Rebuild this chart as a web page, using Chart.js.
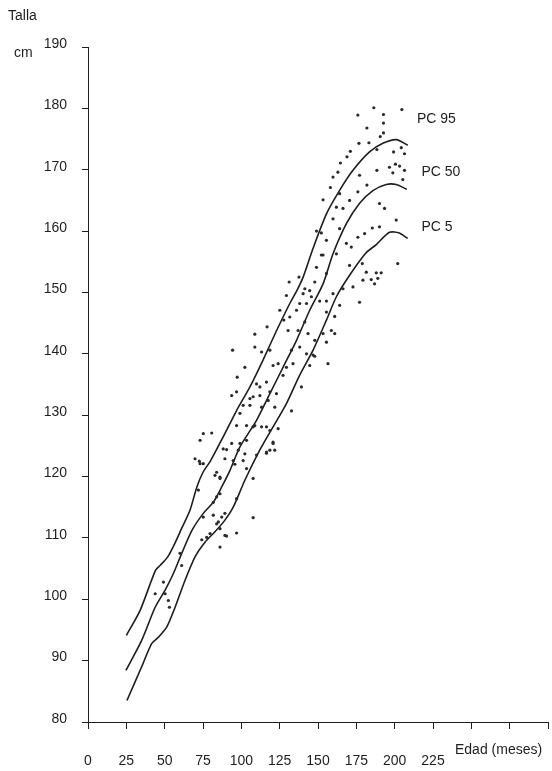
<!DOCTYPE html>
<html>
<head>
<meta charset="utf-8">
<script src="https://cdn.jsdelivr.net/npm/chart.js@4.4.1/dist/chart.umd.min.js"></script>
<style>
  html, body { margin: 0; padding: 0; background: #fff; }
  canvas { display: block; }
</style>
</head>
<body>
<canvas id="chart" width="552" height="771"></canvas>
<script>
// Percentile curves (edad en meses, talla en cm)
const months95 = [25, 34, 44, 47, 52, 57, 61, 66.5, 71, 75, 80, 88, 97, 105.6, 114, 123, 131.6, 136.2, 140.3, 146.8, 155.5, 164, 172.8, 183.6, 192.3, 201, 208.5];
const talla95 = [94.1, 98.2, 104.7, 105.5, 106.9, 109.3, 111.5, 114.5, 118.3, 120.7, 122.6, 126.4, 130.8, 134.6, 138.9, 143.8, 148.2, 150.3, 152.5, 157.2, 162.8, 166.6, 169.9, 172.9, 174.3, 174.9, 174.0];

const months50 = [24.7, 35, 43.8, 50.3, 55.7, 61, 67.7, 75.2, 81.7, 87.2, 92.6, 99, 110, 118.6, 127.2, 136, 144.6, 153.3, 159.8, 168.5, 177, 185.8, 194.5, 201, 208];
const talla50 = [88.4, 93.3, 98.7, 101.5, 104.2, 107.4, 111.2, 114.0, 115.8, 118.3, 121.0, 124.8, 129.2, 133.5, 137.8, 142.2, 147.1, 151.4, 156.3, 161.2, 164.5, 166.6, 167.6, 167.6, 166.8];

const months5 = [25.4, 35, 41.6, 45.9, 51.4, 56.8, 63.3, 69.8, 76.3, 82.8, 89.3, 94.7, 102.3, 112, 120.7, 129.4, 138, 146.8, 155.5, 162, 170.6, 181.5, 188, 196.6, 203, 208.5];
const talla5 = [83.5, 89.0, 92.8, 93.8, 95.5, 98.7, 103.1, 106.9, 109.3, 111.0, 112.9, 115.0, 119.4, 124.3, 128.1, 131.9, 136.5, 140.6, 145.5, 149.3, 152.8, 156.5, 157.8, 159.8, 159.7, 158.8];

// Individual measurements
const dotMonths = [
  186.4, 204.7, 176.0, 192.7, 192.7, 181.9, 192.7, 190.6, 176.7, 183.2, 171.1, 188.4, 168.9, 199.3, 204.3, 206.4,
  164.6, 163.0, 159.8, 188.4, 196.6, 200.5, 203.2, 206.4, 198.8, 205.3, 177.1, 181.9, 158.1, 153.3, 176.0, 170.6,
  164.1, 162.0, 166.3, 190.1, 193.4, 159.8, 176.0, 180.4, 185.4, 190.1, 201.0, 149.0, 152.2, 155.5, 164.1, 168.5,
  171.7, 162.0, 153.3, 178.9, 181.5, 188.0, 191.2, 184.7, 202.0, 170.6, 172.8, 166.3, 177.1, 144.6, 151.1, 140.3,
  138.1, 164.1, 155.5,
  131.2, 137.6, 147.9, 152.2, 129.4, 141.4, 155.5, 149.0, 125.1, 131.6, 136.0, 142.5, 145.7, 155.5, 159.8, 127.7,
  130.5, 137.0, 141.4, 143.5, 147.9, 153.3, 158.7, 160.9, 116.8, 108.8, 94.3, 108.8, 113.2, 118.6, 132.7, 138.1,
  142.5, 146.8, 133.7, 129.4, 124.0, 127.2, 120.7, 102.3, 97.3, 109.9, 112.1, 116.4, 118.6, 122.9, 156.5, 139.2,
  93.7, 96.9, 101.2, 105.6, 107.7, 112.1, 113.2, 117.5, 121.8, 99.1, 132.7, 96.9, 103.4, 108.8, 113.2, 118.6,
  124.0, 75.2, 80.7, 73.1, 93.7, 99.1, 103.4, 120.7, 118.6, 98.0, 102.3, 109.9, 116.4, 88.2, 89.3, 69.8,
  73.1, 94.7, 103.4, 83.9,
  72.6, 75.2, 90.4, 101.2, 95.8, 86.1, 72.0, 83.9, 86.1, 81.7, 96.9, 107.7, 75.2, 81.7, 89.3, 83.9,
  86.1, 79.6, 77.4, 74.2, 90.4, 96.9, 86.1, 107.7, 60.0, 61.1, 49.2, 43.8, 50.3, 52.4, 53.1, 116.4,
  120.7, 121.8, 116.4, 105.6, 107.7, 82.8, 86.1, 85.0, 87.2, 89.3,
  179.3, 186.9, 189.0, 160.9, 155.5, 144.6, 147.9
];
const dotTalla = [
  180.1, 179.8, 178.9, 179.0, 177.6, 176.8, 176.0, 175.4, 174.3, 174.4, 173.0, 173.3, 172.1, 172.9, 173.6, 172.6,
  171.1, 169.6, 168.8, 169.9, 170.4, 170.9, 170.6, 169.9, 169.5, 168.4, 169.1, 167.5, 167.1, 165.1, 166.4, 165.0,
  166.1, 163.9, 163.7, 164.5, 163.7, 162.0, 159.0, 159.6, 160.5, 160.7, 161.8, 160.0, 159.7, 158.5, 160.4, 158.0,
  157.4, 156.3, 156.1, 154.7, 153.3, 153.2, 153.2, 152.1, 154.7, 154.4, 150.9, 150.6, 148.4, 150.3, 148.6, 149.8,
  148.2, 147.9, 148.6,
  151.7, 152.5, 151.7, 156.1, 149.5, 150.6, 153.1, 154.1, 147.1, 146.0, 147.1, 148.2, 149.3, 146.8, 149.8, 145.5,
  143.8, 143.8, 145.2, 143.3, 142.2, 143.3, 143.8, 143.3, 144.4, 143.2, 140.6, 141.1, 140.3, 140.6, 140.6, 141.1,
  140.0, 139.8, 138.4, 137.8, 138.4, 136.5, 138.1, 137.8, 136.2, 135.1, 134.6, 135.4, 133.8, 133.5, 138.4, 134.6,
  133.2, 133.8, 131.6, 132.7, 133.0, 133.2, 131.3, 132.4, 131.3, 130.3, 130.7, 128.3, 128.3, 128.3, 128.1, 127.5,
  127.8, 127.0, 127.1, 125.9, 125.4, 125.4, 125.9, 125.4, 124.3, 124.3, 123.7, 123.5, 124.0, 124.5, 122.9, 122.9,
  122.1, 122.6, 121.3, 120.7,
  122.5, 122.1, 124.4, 122.6, 122.0, 119.7, 117.8, 116.7, 117.2, 115.8, 116.4, 119.7, 113.4, 113.7, 114.0, 112.3,
  111.5, 110.7, 110.1, 109.7, 110.3, 110.8, 108.5, 113.3, 107.5, 105.5, 102.8, 100.9, 100.9, 99.8, 98.7, 128.1,
  125.6, 124.3, 123.8, 131.6, 128.1, 120.2, 119.9, 112.6, 113.4, 110.4,
  152.0, 151.4, 152.3, 146.1, 141.9, 138.1, 139.6
];

const xTicksShown = 225;
const fontFamily = "'Liberation Sans', Arial, sans-serif";
const ink = "#1e1e1e";

function toPoints(xs, ys) {
  return xs.map((x, i) => ({ x: x, y: ys[i] }));
}

function curve(xs, ys) {
  return {
    type: "line",
    data: toPoints(xs, ys),
    borderColor: ink,
    borderWidth: 1.6,
    pointRadius: 0,
    fill: false,
    tension: 0.25,
    showLine: true,
  };
}

// Text labels: axis titles and percentile names
const labelsPlugin = {
  id: "labels",
  afterDraw(chart) {
    const ctx = chart.ctx;
    const x = chart.scales.x;
    const y = chart.scales.y;
    ctx.save();
    ctx.fillStyle = ink;
    ctx.font = "14px " + fontFamily;
    ctx.textBaseline = "middle";
    ctx.textAlign = "left";
    ctx.fillText("Talla", 8, 16);
    ctx.fillText("cm", 14, 53);
    ctx.fillText("Edad (meses)", 455, 750);
    ctx.fillText("PC 95", x.getPixelForValue(214.5), y.getPixelForValue(178.3));
    ctx.fillText("PC 50", x.getPixelForValue(217.5), y.getPixelForValue(169.6));
    ctx.fillText("PC 5", x.getPixelForValue(217.5), y.getPixelForValue(160.7));
    ctx.restore();
  },
};

new Chart(document.getElementById("chart"), {
  type: "scatter",
  data: {
    datasets: [
      {
        data: toPoints(dotMonths, dotTalla),
        backgroundColor: "#2a2a2a",
        borderWidth: 0,
        pointRadius: 1.6,
      },
      curve(months95, talla95),
      curve(months50, talla50),
      curve(months5, talla5),
    ],
  },
  options: {
    responsive: false,
    animation: false,
    devicePixelRatio: 1,
    layout: { padding: { top: 47, right: 3, left: 0, bottom: 0 } },
    plugins: {
      legend: { display: false },
      tooltip: { enabled: false },
    },
    scales: {
      x: {
        type: "linear",
        min: 0,
        max: 300,
        afterFit: (scale) => {
          scale.height = 49;
          // tick padding should not eat into the plot width
          scale.paddingLeft = 0;
          scale.paddingRight = 0;
        },
        ticks: {
          stepSize: 25,
          autoSkip: false,
          maxRotation: 0,
          padding: 24,
          color: ink,
          font: { family: fontFamily, size: 14 },
          callback: (v) => (v <= xTicksShown ? v : ""),
        },
        grid: { drawOnChartArea: false, drawTicks: true, tickLength: 7, color: ink },
        border: { color: ink, width: 1 },
      },
      y: {
        min: 80,
        max: 190,
        afterFit: (scale) => { scale.width = 88; },
        ticks: {
          stepSize: 10,
          padding: 15,
          labelOffset: -3,
          color: ink,
          font: { family: fontFamily, size: 14 },
        },
        grid: { drawOnChartArea: false, drawTicks: true, tickLength: 6, color: ink },
        border: { color: ink, width: 1 },
      },
    },
  },
  plugins: [labelsPlugin],
});
</script>
</body>
</html>
